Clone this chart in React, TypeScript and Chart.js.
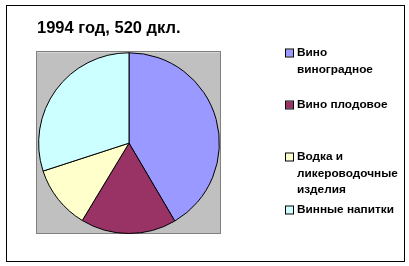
import React, { useEffect, useRef } from "react";
import { Chart, registerables } from "chart.js";

Chart.register(...registerables);

const titleText = "1994 год, 520 дкл.";
const categories = ["Вино виноградное", "Вино плодовое", "Водка и ликероводочные изделия", "Винные напитки"];
const legendLines = [["Вино", "виноградное"], ["Вино плодовое"], ["Водка и", "ликероводочные", "изделия"], ["Винные напитки"]];
const values = [216, 89, 59, 156];
const colors = ["#9999FF", "#993366", "#FFFFCC", "#CCFFFF"];

const FONT = "'Liberation Sans', Arial, sans-serif";

const framePlugin = {
  id: "frame",
  beforeDatasetsDraw(chart: any) {
    const { ctx, chartArea } = chart;
    ctx.save();
    ctx.fillStyle = "#C0C0C0";
    ctx.fillRect(chartArea.left, chartArea.top, chartArea.right - chartArea.left, chartArea.bottom - chartArea.top);
    ctx.strokeStyle = "#808080";
    ctx.lineWidth = 1;
    ctx.strokeRect(Math.round(chartArea.left) - 0.5, Math.round(chartArea.top) - 0.5, Math.round(chartArea.right - chartArea.left), Math.round(chartArea.bottom - chartArea.top));
    ctx.restore();
  },
  afterDraw(chart: any) {
    const { ctx } = chart;
    ctx.save();
    ctx.strokeStyle = "#000";
    ctx.lineWidth = 1;
    ctx.strokeRect(6.5, 5.5, 398, 256);
    // legend
    const itemY = [53, 105, 157, 210];
    const lineH = 16.5;
    ctx.font = `bold 11.8px ${FONT}`;
    ctx.textBaseline = "middle";
    ctx.textAlign = "left";
    legendLines.forEach((lines, i) => {
      const y = itemY[i];
      ctx.fillStyle = colors[i];
      ctx.fillRect(286, y - 3.5, 7, 7);
      ctx.strokeStyle = "#000";
      ctx.strokeRect(285.5, y - 4, 8, 8);
      ctx.fillStyle = "#000";
      lines.forEach((t, j) => ctx.fillText(t, 297, y + j * lineH));
    });
    ctx.restore();
  },
};

export default function App() {
  const ref = useRef<HTMLCanvasElement>(null);
  useEffect(() => {
    const chart = new Chart(ref.current!, {
      type: "pie",
      data: {
        labels: categories,
        datasets: [
          {
            data: values,
            backgroundColor: colors,
            borderColor: "#000000",
            borderWidth: 1,
          },
        ],
      },
      options: {
        animation: false,
        responsive: false,
        layout: { padding: { left: 37, top: 18.5, right: 188, bottom: 32 } },
        plugins: {
          legend: { display: false },
          tooltip: { enabled: false },
          title: {
            display: true,
            text: titleText,
            align: "start",
            color: "#000",
            font: { family: FONT, size: 16.5, weight: "bold" },
            padding: { top: 0, bottom: 14 },
          },
        },
      },
      plugins: [framePlugin],
    });
    return () => chart.destroy();
  }, []);
  return (
    <div style={{ position: "fixed", left: 0, top: 0, width: 409, height: 266, background: "#fff" }}>
      <canvas ref={ref} width={409} height={266} style={{ display: "block" }} />
    </div>
  );
}
